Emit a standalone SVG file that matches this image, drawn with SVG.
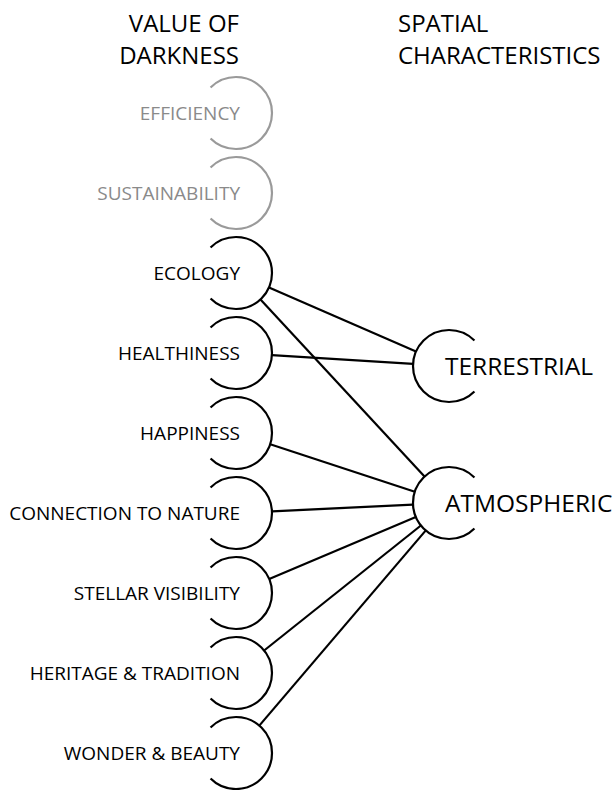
<svg xmlns="http://www.w3.org/2000/svg" xmlns:xlink="http://www.w3.org/1999/xlink" width="613" height="790" viewBox="0 0 613 790">
<style>
text{font-family:"Open Sans","Liberation Sans",sans-serif;fill:#000;font-weight:500}
.hdr{font-size:24px}
.lbl{font-size:19px;text-anchor:end}
.big{font-size:24.5px}
.dim text{fill:#8a8a8a}
.arc{fill:none;stroke:#000;stroke-width:2.2}
.dim .arc{stroke:#9a9a9a}
.edge{stroke:#000;stroke-width:2.2;fill:none}
</style>
<defs>
<path id="arcL" d="M -25.46 -25.46 A 36 36 0 1 1 -25.46 25.46"/>
<path id="arcR" d="M 25.46 -25.46 A 36 36 0 1 0 25.46 25.46"/>
</defs>
<rect width="613" height="790" fill="#fff"/>
<g id="headers">
<text class="hdr" x="239" y="32" text-anchor="end">VALUE OF</text>
<text class="hdr" x="239" y="64" text-anchor="end">DARKNESS</text>
<text class="hdr" x="398" y="32">SPATIAL</text>
<text class="hdr" x="398" y="64">CHARACTERISTICS</text>
</g>
<g id="connectors">
<line class="edge" x1="269" y1="287.4" x2="416" y2="351.6"/>
<line class="edge" x1="260.5" y1="299.4" x2="424.5" y2="476.6"/>
<line class="edge" x1="271.9" y1="355.2" x2="413.1" y2="363.8"/>
<line class="edge" x1="270.2" y1="444.2" x2="414.8" y2="491.8"/>
<line class="edge" x1="272" y1="511.3" x2="413" y2="504.7"/>
<line class="edge" x1="269.2" y1="579" x2="415.8" y2="517"/>
<line class="edge" x1="264.1" y1="650.5" x2="420.9" y2="525.5"/>
<line class="edge" x1="259.3" y1="725.6" x2="425.6" y2="530.6"/>
</g>
<g id="efficiency" class="dim"><use href="#arcL" xlink:href="#arcL" class="arc" transform="translate(236 113)"/><text class="lbl" x="240" y="120">EFFICIENCY</text></g>
<g id="sustainability" class="dim"><use href="#arcL" xlink:href="#arcL" class="arc" transform="translate(236 193)"/><text class="lbl" x="240" y="200">SUSTAINABILITY</text></g>
<g id="ecology"><use href="#arcL" xlink:href="#arcL" class="arc" transform="translate(236 273)"/><text class="lbl" x="240" y="280">ECOLOGY</text></g>
<g id="healthiness"><use href="#arcL" xlink:href="#arcL" class="arc" transform="translate(236 353)"/><text class="lbl" x="240" y="360">HEALTHINESS</text></g>
<g id="happiness"><use href="#arcL" xlink:href="#arcL" class="arc" transform="translate(236 433)"/><text class="lbl" x="240" y="440">HAPPINESS</text></g>
<g id="connection"><use href="#arcL" xlink:href="#arcL" class="arc" transform="translate(236 513)"/><text class="lbl" x="240" y="520">CONNECTION TO NATURE</text></g>
<g id="stellar"><use href="#arcL" xlink:href="#arcL" class="arc" transform="translate(236 593)"/><text class="lbl" x="240" y="600">STELLAR VISIBILITY</text></g>
<g id="heritage"><use href="#arcL" xlink:href="#arcL" class="arc" transform="translate(236 673)"/><text class="lbl" x="240" y="680">HERITAGE &amp; TRADITION</text></g>
<g id="wonder"><use href="#arcL" xlink:href="#arcL" class="arc" transform="translate(236 753)"/><text class="lbl" x="240" y="760">WONDER &amp; BEAUTY</text></g>
<g id="terrestrial"><use href="#arcR" xlink:href="#arcR" class="arc" transform="translate(449 366)"/><text class="big" x="445" y="375">TERRESTRIAL</text></g>
<g id="atmospheric"><use href="#arcR" xlink:href="#arcR" class="arc" transform="translate(449 503)"/><text class="big" x="445" y="512">ATMOSPHERIC</text></g>
</svg>
